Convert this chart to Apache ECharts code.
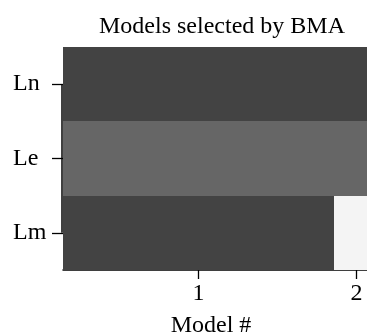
<!DOCTYPE html>
<html>
<head>
<meta charset="utf-8">
<script src="https://cdn.jsdelivr.net/npm/echarts@6/dist/echarts.min.js"></script>
<style>
  html, body { margin: 0; padding: 0; background: #fff; }
  #chart { width: 367px; height: 332px; }
</style>
</head>
<body>
<div id="chart"></div>
<script>
// Variables in the BMA model space (top to bottom)
const variables = ['Ln', 'Le', 'Lm'];
// Posterior probability of each selected model (column widths)
const modelProbs = [0.858, 0.142];
// Coefficient sign per variable and model: 1 positive, -1 negative, 0 not included
const inclusion = {
  Ln: [1, 1],
  Le: [-1, -1],
  Lm: [1, 0]
};
const signColors = { '1': '#434343', '-1': '#666666', '0': '#f4f4f4' };

// Cumulative model boundaries and label positions at column centres
const bounds = [0];
modelProbs.forEach(function (p, i) { bounds.push(bounds[i] + p); });
const mids = modelProbs.map(function (p, i) { return bounds[i] + p / 2; });

const cells = [];
variables.forEach(function (v, row) {
  inclusion[v].forEach(function (s, m) {
    cells.push([bounds[m], bounds[m + 1], row, s]);
  });
});

const serif = 'Liberation Serif';
const chart = echarts.init(document.getElementById('chart'), null, { renderer: 'canvas' });

chart.setOption({
  animation: false,
  backgroundColor: '#ffffff',
  title: {
    text: 'Models selected by BMA',
    left: 222,
    top: 15,
    padding: 0,
    textAlign: 'center',
    textStyle: { fontFamily: serif, fontSize: 24, fontWeight: 'normal', color: '#000' }
  },
  grid: { left: 63, width: 316, top: 47, bottom: 62, outerBoundsMode: 'none' },
  xAxis: {
    type: 'value',
    min: 0,
    max: bounds[bounds.length - 1],
    name: 'Model #',
    nameLocation: 'middle',
    nameGap: 44,
    nameTextStyle: { fontFamily: serif, fontSize: 24, color: '#000', padding: [0, 20, 0, 0] },
    axisLine: { show: true, lineStyle: { color: '#000', width: 1.5 } },
    axisTick: { show: true, length: 9, customValues: mids, lineStyle: { color: '#000', width: 1.3 } },
    axisLabel: {
      customValues: mids,
      fontFamily: serif, fontSize: 24, color: '#000', margin: 12,
      formatter: function (val) {
        let idx = 0;
        mids.forEach(function (m, i) { if (Math.abs(m - val) < 1e-9) idx = i; });
        return String(idx + 1);
      }
    },
    splitLine: { show: false }
  },
  yAxis: {
    type: 'category',
    data: variables,
    inverse: true,
    axisLine: { show: false },
    axisTick: { show: true, alignWithLabel: true, length: 11, lineStyle: { color: '#000', width: 1.3 } },
    axisLabel: { fontFamily: serif, fontSize: 24, color: '#000', margin: 50, align: 'left', padding: [0, 0, 4, 0] },
    splitLine: { show: false }
  },
  series: [
    {
      type: 'custom',
      data: cells,
      encode: { x: [0, 1], y: 2 },
      renderItem: function (params, api) {
        const row = api.value(2);
        const p0 = api.coord([api.value(0), row]);
        const p1 = api.coord([api.value(1), row]);
        const h = api.size([0, 1])[1];
        const x0 = Math.round(p0[0]), x1 = Math.round(p1[0]);
        const y0 = Math.round(p0[1] - h / 2), y1 = Math.round(p0[1] + h / 2);
        return {
          type: 'rect',
          shape: { x: x0, y: y0, width: x1 - x0, height: y1 - y0 },
          style: { fill: signColors[String(api.value(3))] }
        };
      }
    },
    {
      // Left axis line spanning only the first to the last variable tick
      type: 'custom',
      data: [[0, 0, variables.length - 1]],
      encode: { x: 0, y: [1, 2] },
      z: 5,
      renderItem: function (params, api) {
        const a = api.coord([api.value(0), api.value(1)]);
        const b = api.coord([api.value(0), api.value(2)]);
        return {
          type: 'line',
          shape: { x1: a[0] - 1, y1: a[1], x2: b[0] - 1, y2: b[1] },
          style: { stroke: '#000', lineWidth: 1.5 }
        };
      }
    }
  ]
});
</script>
</body>
</html>
